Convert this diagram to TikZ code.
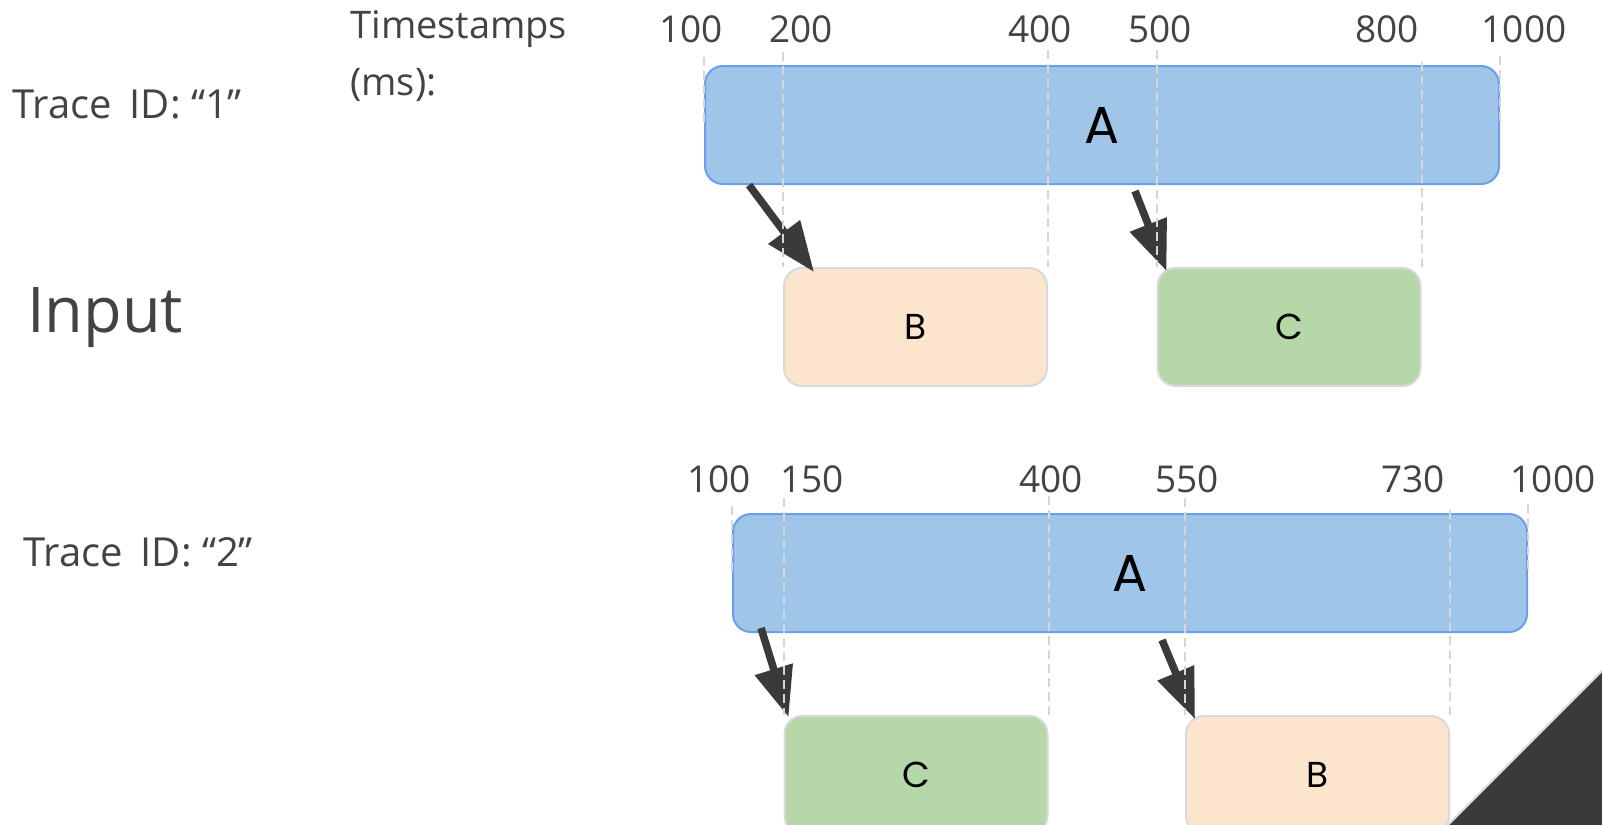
\documentclass[tikz,border=0pt]{standalone}
\usepackage{fontspec}
\setmainfont{Open Sans}
\newfontfamily\boxfont{Poppins}
\usetikzlibrary{arrows.meta,calc}

\definecolor{ink}{HTML}{434343}
\definecolor{spanblue}{HTML}{9FC5E8}
\definecolor{spanedge}{HTML}{6D9EEB}
\definecolor{peach}{HTML}{FCE5CD}
\definecolor{sage}{HTML}{B6D7A8}
\definecolor{softedge}{HTML}{D9D9D9}
\definecolor{guidegray}{HTML}{D6D6D6}
\definecolor{arrowgray}{HTML}{3A3A3A}

\tikzset{
  rootspan/.style={draw=spanedge, fill=spanblue, line width=1pt, rounded corners=9pt,
    minimum width=397pt, minimum height=59pt, inner sep=0pt,
    font=\boxfont\fontsize{26}{30}\selectfont, text=black},
  childspan/.style={draw=softedge, line width=1pt, rounded corners=9pt,
    minimum width=131.5pt, minimum height=59pt, inner sep=0pt,
    font=\boxfont\fontsize{18}{22}\selectfont, text=black},
  tick/.style={anchor=base, inner sep=0pt, text=ink, font=\fontsize{18.5}{22}\selectfont},
  caption/.style={anchor=base west, inner sep=0pt, text=ink, font=\fontsize{20}{24}\selectfont},
  guide/.style={draw=guidegray, line width=1pt, dash pattern=on 4.5pt off 2.5pt},
  callarrow/.style={draw=arrowgray, line width=3.8pt,
    -{Triangle[length=25pt,width=19pt]}},
}

\begin{document}
\begin{tikzpicture}[x=0.5pt,y=-0.5pt]
\useasboundingbox (0,0) rectangle (1602,825);
\clip (0,0) rectangle (1602,825);

% left-hand captions
\node[caption] (trace1) at (12,118) {Trace\hspace{0.45em}ID: “1”};
\node[caption, font=\fontsize{31.5}{38}\selectfont] (input) at (27,332) {Input};
\node[caption] (trace2) at (23,566) {Trace\hspace{0.45em}ID: “2”};
\node[anchor=north west, inner sep=0pt, text=ink, align=left,
      font=\fontsize{19}{28.5}\selectfont] (tslabel) at (350,10) {Timestamps\\(ms):};

% trace 1 time marks
\node[tick] (a100) at (691,42) {100};
\node[tick] (a200) at (801,42) {200};
\node[tick] (a400) at (1040,42) {400};
\node[tick] (a500) at (1160,42) {500};
\node[tick] (a800) at (1387,42) {800};
\node[tick] (a1000) at (1524,42) {1000};

% trace 2 time marks
\node[tick] (b100) at (719,492) {100};
\node[tick] (b150) at (812,492) {150};
\node[tick] (b400) at (1051,492) {400};
\node[tick] (b550) at (1187,492) {550};
\node[tick] (b730) at (1413,492) {730};
\node[tick] (b1000) at (1553,492) {1000};

% spans of trace 1
\node[rootspan] (A1) at (1102,125) {A};
\node[childspan, fill=peach] (B1) at (915.5,327) {B};
\node[childspan, fill=sage] (C1) at (1289,327) {C};

% spans of trace 2
\node[rootspan] (A2) at (1130,573) {A};
\node[childspan, fill=sage] (C2) at (916,775) {C};
\node[childspan, fill=peach] (B2) at (1317.5,775) {B};

% parent-to-child calls
\draw[callarrow] ($(A1.south west)+(45,0)$) -- ($(B1.north west)+(31,5)$);
\draw[callarrow] ($(A1.south west)+(431,6)$) -- ($(C1.north west)+(10,4)$);
\draw[callarrow] ($(A2.south west)+(29,-5)$) -- ($(C2.north west)+(5,2)$);
\draw[callarrow] ($(A2.south west)+(430,7)$) -- ($(B2.north west)+(10,4)$);

% dashed guides from each time mark down to the span edges
\draw[guide] ($(A1.north west)+(0,-8)$) -- (A1.west);
\draw[guide] ($(B1.north west)+(0,-215)$) -- (B1.north west);
\draw[guide] ($(B1.north east)+(0,-217)$) -- (B1.north east);
\draw[guide] ($(C1.north west)+(0,-217)$) -- (C1.north west);
\draw[guide] ($(C1.north east)+(0,-205)$) -- (C1.north east);
\draw[guide] ($(A1.north east)+(0,-9)$) -- (A1.east);

\draw[guide] ($(A2.north west)+(0,-7)$) -- (A2.west);
\draw[guide] ($(C2.north west)+(0,-217)$) -- (C2.north west);
\draw[guide] ($(C2.north east)+(0,-219)$) -- (C2.north east);
\draw[guide] ($(B2.north west)+(0,-217)$) -- (B2.north west);
\draw[guide] ($(B2.north east)+(0,-205)$) -- (B2.north east);
\draw[guide] ($(A2.north east)+(0,-9)$) -- (A2.east);

% dark corner wedge
\fill[arrowgray] (1440,833) -- (1610,833) -- (1610,663) -- cycle;
\draw[softedge, line width=1pt] (1440,833) -- (1610,663);
\end{tikzpicture}
\end{document}
